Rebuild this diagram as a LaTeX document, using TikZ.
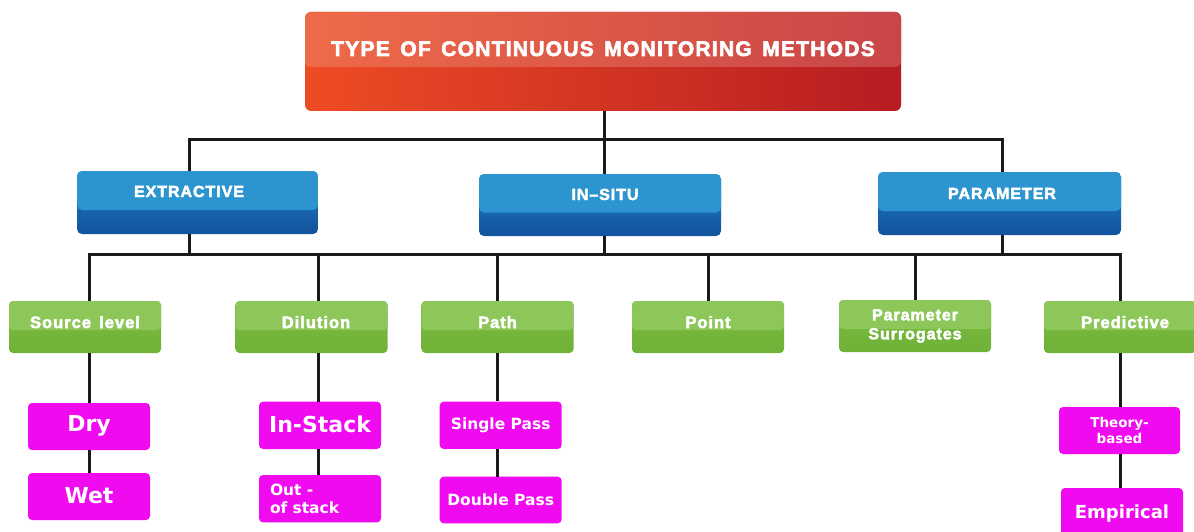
\documentclass[tikz,border=0pt]{standalone}
\usepackage{fontspec}
\setmainfont{Liberation Sans}
\newfontfamily\headfont{Liberation Sans}[LetterSpace=6,BoldFeatures={FakeBold=3}]
\newfontfamily\magfont{DejaVu Sans}
\newcommand\wsp{\hspace{0.5em}}
\definecolor{redL}{RGB}{239,106,72}
\definecolor{redLR}{RGB}{200,70,72}
\definecolor{redD}{RGB}{238,76,36}
\definecolor{redDR}{RGB}{182,28,34}
\definecolor{blueT}{RGB}{44,148,206}
\definecolor{blueB1}{RGB}{30,130,200}
\definecolor{blueB2}{RGB}{18,82,156}
\definecolor{greenT}{RGB}{141,199,90}
\definecolor{greenB1}{RGB}{122,189,64}
\definecolor{greenB2}{RGB}{112,178,56}
\definecolor{mag}{RGB}{240,10,240}
\definecolor{lineC}{RGB}{26,26,26}
\begin{document}
\begin{tikzpicture}[x=1pt,y=-1pt,
  conn/.style={line width=3pt, draw=lineC},
  topbox/.style={inner sep=0pt, text=white, rounded corners=6pt, anchor=base,
    left color=redD, right color=redDR,
    path picture={\shade[left color=redL,right color=redLR] (path picture bounding box.north west) rectangle ([yshift=-5.5pt]path picture bounding box.east);},
    font=\headfont\bfseries\fontsize{21}{24}\selectfont},
  bluebox/.style={inner sep=0pt, text=white, rounded corners=5pt, anchor=base,
    top color=blueB1, bottom color=blueB2,
    path picture={\fill[blueT] (path picture bounding box.north west) rectangle ([yshift=-7.5pt]path picture bounding box.east);},
    font=\headfont\bfseries\fontsize{16}{19}\selectfont},
  greenbox/.style={inner sep=0pt, text=white, rounded corners=4pt, minimum width=152pt,
    top color=greenB1, bottom color=greenB2,
    path picture={\fill[greenT] (path picture bounding box.north west) rectangle ([yshift=-3pt]path picture bounding box.east);},
    font=\headfont\bfseries\fontsize{16.5}{18}\selectfont},
  greenone/.style={greenbox, anchor=base, text height=27pt, text depth=25pt},
  magbox/.style={inner sep=0pt, text=white, fill=mag, rounded corners=4pt, minimum width=122pt},
  magbig/.style={magbox, anchor=base, font=\magfont\bfseries\fontsize{22}{26}\selectfont},
  magsmall/.style={magbox, anchor=center, font=\magfont\bfseries\fontsize{15.5}{17.5}\selectfont},
]
\clip (0,0) rectangle (1194,532);
\fill[white] (0,0) rectangle (1194,532);
\coordinate (b1) at (0,140);
\coordinate (b2) at (0,254);

% top
\node[topbox, minimum width=596pt, text height=44pt, text depth=55pt] (top) at (603,56)
  {TYPE\wsp OF\wsp CONTINUOUS\wsp MONITORING\wsp METHODS};

% level 1
\node[bluebox, minimum width=241pt, text height=26pt, text depth=37pt] (ext) at (197.5,197) {EXTRACTIVE\kern17pt\relax};
\node[bluebox, minimum width=242pt, text height=26pt, text depth=36pt] (ins) at (600,200) {\hspace{10pt}IN–SITU};
\node[bluebox, minimum width=243pt, text height=27pt, text depth=36pt] (par) at (999.5,199) {\hspace{5pt}PARAMETER};

% level 2
\node[greenone] (src) at (85,328) {Source\wsp level};
\node[greenone] (dil) at (311.5,328) {\hspace{9pt}Dilution};
\node[greenone] (path) at (497.5,328) {Path};
\node[greenone] (point) at (708,328) {Point};
\node[greenbox, anchor=center, minimum height=52pt, align=center, font=\headfont\bfseries\fontsize{16}{19}\selectfont] (sur) at (915,326) {Parameter\\Surrogates};
\node[greenone] (pred) at (1120,328) {\hspace{10pt}Predictive};

% level 3
\node[magbig, text height=28pt, text depth=19pt] (dry) at (89,431) {Dry};
\node[magbig, text height=30pt, text depth=17pt] (wet) at (89,503) {Wet};
\node[magbig, text height=31pt, text depth=16.3pt] (instack) at (320,432.7) {In-Stack};
\node[magsmall, minimum height=47.3pt, text width=100pt, align=left] (outstack) at (320,498.7) {Out -\\of stack};
\node[magsmall, minimum height=47.3pt] (single) at (500.7,425.3) {Single Pass};
\node[magsmall, minimum height=46.6pt] (double) at (500.7,500) {Double Pass};
\node[magsmall, minimum width=121pt, minimum height=47pt, align=center, font=\magfont\bfseries\fontsize{13.5}{16}\selectfont] (theory) at (1119.5,430.5) {Theory-\\based};
\node[magbox, anchor=base, minimum width=122pt, text height=30pt, text depth=27pt, font=\magfont\bfseries\fontsize{18}{22}\selectfont] (emp) at (1122,518) {Empirical};

% connector columns
\coordinate (extT) at ([xshift=-8.5pt]ext.north);
\coordinate (extB) at ([xshift=-8.5pt]ext.south);
\coordinate (insT) at ([xshift=4pt]ins.north);
\coordinate (insB) at ([xshift=4pt]ins.south);
\coordinate (parT) at ([xshift=2.5pt]par.north);
\coordinate (parB) at ([xshift=2.5pt]par.south);
\coordinate (srcT) at ([xshift=4pt]src.north);
\coordinate (srcB) at ([xshift=4pt]src.south);
\coordinate (dilT) at ([xshift=6.5pt]dil.north);
\coordinate (dilB) at ([xshift=6.5pt]dil.south);

% top bus
\draw[conn] (insT|-top.south) -- (insT);
\draw[conn] (extT) -- (extT|-b1) -- (parT|-b1) -- (parT);

% second bus
\draw[conn] (srcT) -- (srcT|-b2) -- (pred.north|-b2) -- (pred.north);
\draw[conn] (extB) -- (extB|-b2);
\draw[conn] (insB) -- (insB|-b2);
\draw[conn] (parB) -- (parB|-b2);
\draw[conn] (dilT) -- (dilT|-b2);
\draw[conn] (path.north) -- (path.north|-b2);
\draw[conn] (point.north) -- (point.north|-b2);
\draw[conn] (sur.north) -- (sur.north|-b2);

% lower connectors
\draw[conn] (srcB) -- (srcB|-dry.north);
\draw[conn] (srcB|-dry.south) -- (srcB|-wet.north);
\draw[conn] (dilB) -- (dilB|-instack.north);
\draw[conn] (dilB|-instack.south) -- (dilB|-outstack.north);
\draw[conn] (path.south) -- (path.south|-single.north);
\draw[conn] (path.south|-single.south) -- (path.south|-double.north);
\draw[conn] (pred.south) -- (pred.south|-theory.north);
\draw[conn] (pred.south|-theory.south) -- (pred.south|-emp.north);
\end{tikzpicture}
\end{document}
